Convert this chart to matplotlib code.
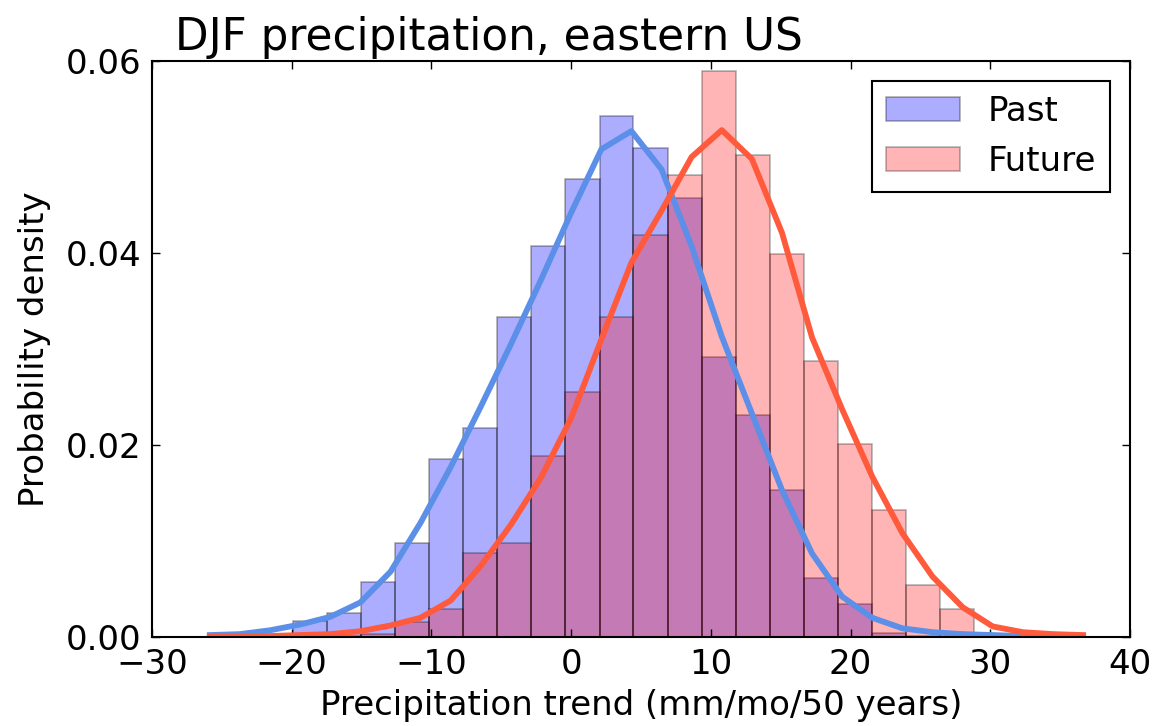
import numpy as np
import matplotlib
matplotlib.use('Agg')
import matplotlib.pyplot as plt

# histogram bin edges (shared by both histograms)
bin_edges = [-19.91, -17.47, -15.03, -12.60, -10.16, -7.72, -5.29, -2.85, -0.41,
             2.03, 4.46, 6.90, 9.34, 11.77, 14.21, 16.65, 19.08, 21.52, 23.96,
             26.39, 28.83]
past_density = [0.0017, 0.0025, 0.0057, 0.0098, 0.0185, 0.0218, 0.0333, 0.0407,
                0.0477, 0.0543, 0.0509, 0.0457, 0.0292, 0.0231, 0.0153, 0.0061,
                0.0034, 0.0004, 0.0001, 0.0]
future_density = [0.0, 0.0001, 0.0003, 0.0016, 0.0029, 0.0087, 0.0098, 0.0189,
                  0.0255, 0.0333, 0.0419, 0.0481, 0.0590, 0.0502, 0.0399, 0.0288,
                  0.0201, 0.0132, 0.0054, 0.0029]

# smooth curves
curve_x = [-25.86, -23.71, -21.55, -19.40, -17.24, -15.09, -12.93, -10.78, -8.62,
           -6.47, -4.31, -2.16, 0.00, 2.16, 4.31, 6.47, 8.62, 10.78, 12.93, 15.09,
           17.24, 19.40, 21.55, 23.71, 25.86, 28.02, 30.17, 32.33, 34.48, 36.64]
past_curve = [0.0002, 0.0003, 0.0007, 0.0013, 0.0021, 0.0036, 0.0068, 0.0119, 0.0177,
              0.0240, 0.0305, 0.0372, 0.0442, 0.0508, 0.0527, 0.0487, 0.0407, 0.0313,
              0.0233, 0.0153, 0.0087, 0.0042, 0.0020, 0.0009, 0.0005, 0.0003, 0.0002,
              0.0001, 0.0001, 0.0000]
future_curve = [0.0001, 0.0001, 0.0001, 0.0002, 0.0003, 0.0006, 0.0012, 0.0020, 0.0038,
                0.0074, 0.0117, 0.0166, 0.0228, 0.0310, 0.0390, 0.0444, 0.0500, 0.0528,
                0.0498, 0.0421, 0.0312, 0.0237, 0.0167, 0.0108, 0.0063, 0.0031, 0.0011,
                0.0005, 0.0003, 0.0002]

fig = plt.figure(figsize=(11.72, 7.26), dpi=100)
ax = fig.add_axes([0.1297, 0.1226, 0.8345, 0.7934])

edges = np.array(bin_edges)
widths = np.diff(edges)
ax.bar(edges[:-1], past_density, width=widths, align='edge', color='b',
       edgecolor='k', alpha=0.32, linewidth=1.2, label='Past')
ax.bar(edges[:-1], future_density, width=widths, align='edge', color='r',
       edgecolor='k', alpha=0.29, linewidth=1.2, label='Future')

ax.plot(curve_x, past_curve, color='#5b8fe8', lw=4.2)
ax.plot(curve_x, future_curve, color='#ff5a3c', lw=4.2)

ax.set_xlim(-30, 40)
ax.set_ylim(0, 0.06)
ax.set_xticks(np.arange(-30, 41, 10))
ax.set_yticks([0, 0.02, 0.04, 0.06])
ax.set_yticklabels(['0.00', '0.02', '0.04', '0.06'])
ax.tick_params(direction='in', top=True, right=True, length=6, width=1,
               labelsize=24.5, pad=8)
for s in ax.spines.values():
    s.set_linewidth(1.5)

ax.set_xlabel('Precipitation trend (mm/mo/50 years)', fontsize=24.5, labelpad=6)
ax.set_ylabel('Probability density', fontsize=24.5, labelpad=10)
ax.text(0.0235, 1.019, 'DJF precipitation, eastern US', transform=ax.transAxes,
        fontsize=31.5, va='baseline', ha='left')

leg = ax.legend(loc='upper right', fontsize=24.5, fancybox=False, framealpha=1,
                edgecolor='k', borderaxespad=0.6, handlelength=2.2)
leg.get_frame().set_linewidth(1.5)

fig.savefig('out.png', dpi=100, facecolor='white')
